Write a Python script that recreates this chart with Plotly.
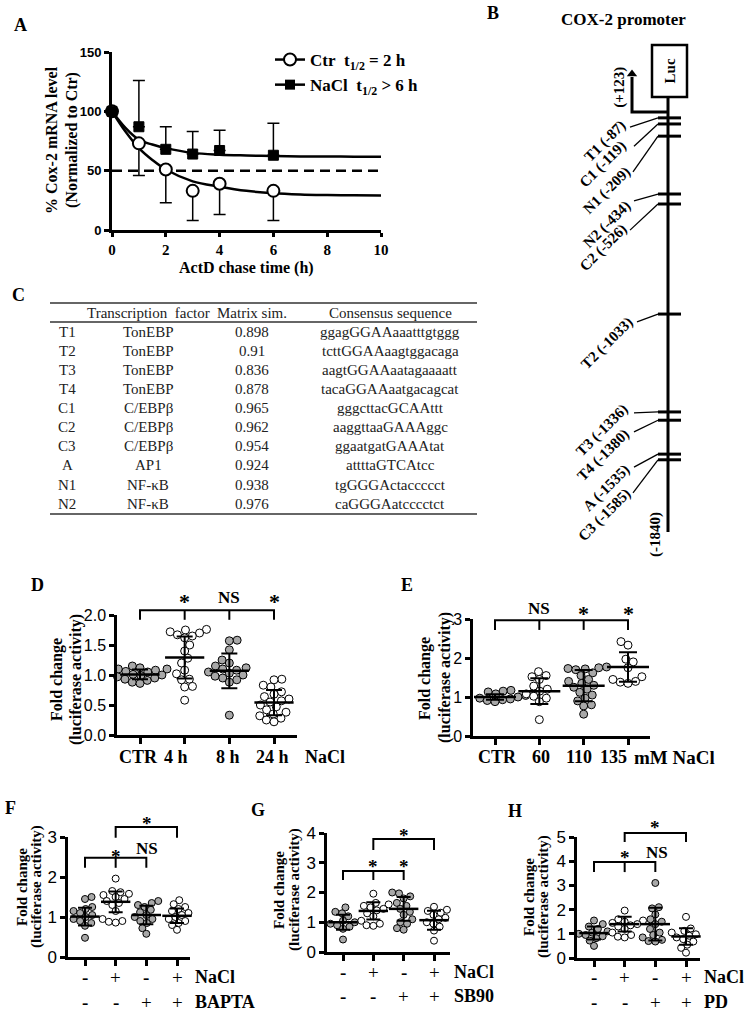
import math
import plotly.graph_objects as go

W, H = 745, 1013
SERIF = "Liberation Serif"
SANS = "Liberation Sans"
GREY_FILL = "#a8a8a8"

# ================= DATA =================
# ---- Panel A : ActD chase ----
a_time = [0, 1, 2, 3, 4, 6]
a_ctr_mean = [100, 73, 51, 33, 39, 33]
a_ctr_err = [0, 27, 28, 25, 26, 25]
a_nacl_mean = [100, 87, 68, 64, 67, 63]
a_nacl_err = [0, 39, 19, 19, 17, 27]
a_fit_time = [0, 0.5, 1, 1.5, 2, 3, 4, 5, 6, 7, 8, 9, 10]
a_fit_ctr = [100, 83, 69, 59, 51, 41, 36.5, 33, 31, 30, 29.5, 29.2, 29]
a_fit_nacl = [100, 86, 76, 72, 69, 65, 63.5, 62.8, 62.3, 62, 61.9, 61.8, 61.8]
a_half_level = 50
a_xticks = [0, 2, 4, 6, 8, 10]
a_yticks = [0, 50, 100, 150]
a_names = ["Ctr\u00a0\u00a0t<sub>1/2</sub> = 2 h", "NaCl\u00a0\u00a0t<sub>1/2</sub> &gt; 6 h"]

# ---- Panel B : COX-2 promoter sites ----
b_sites = ["T1", "C1", "N1", "N2", "C2", "T2", "T3", "T4", "A", "C3"]
b_bp = [-87, -119, -209, -434, -526, -1033, -1336, -1380, -1535, -1585]
b_tss = "+123"
b_end = "-1840"

# ---- Panel C : table ----
c_header = ["", "Transcription\u00a0\u00a0factor", "Matrix sim.", "Consensus sequence"]
c_site = ["T1", "T2", "T3", "T4", "C1", "C2", "C3", "A", "N1", "N2"]
c_factor = ["TonEBP", "TonEBP", "TonEBP", "TonEBP", "C/EBPβ", "C/EBPβ", "C/EBPβ",
            "AP1", "NF-κB", "NF-κB"]
c_sim = ["0.898", "0.91", "0.836", "0.878", "0.965", "0.962", "0.954", "0.924", "0.938", "0.976"]
c_seq = ["ggagGGAAaaatttgtggg", "tcttGGAAaagtggacaga", "aagtGGAAaatagaaaatt",
         "tacaGGAAaatgacagcat", "gggcttacGCAAttt", "aaggttaaGAAAggc",
         "ggaatgatGAAAtat", "attttaGTCAtcc", "tgGGGActaccccct", "caGGGAatcccctct"]

# ---- Panel D : time course ----
d_labels = ["CTR", "4 h", "8 h", "24 h"]
d_vals = [
    [1.15, 1.13, 1.12, 1.10, 1.10, 1.08, 1.06, 1.05, 1.03, 1.01, 1.00, 0.99, 0.97, 0.95, 0.93, 0.91, 0.88, 0.86],
    [1.76, 1.75, 1.72, 1.70, 1.67, 1.65, 1.62, 1.50, 1.40, 1.28, 1.20, 1.08, 1.02, 0.93, 0.92, 0.81, 0.80, 0.58],
    [1.58, 1.57, 1.42, 1.25, 1.20, 1.15, 1.12, 1.10, 1.08, 1.05, 1.03, 1.00, 0.98, 0.95, 0.92, 0.88, 0.33],
    [0.93, 0.92, 0.83, 0.80, 0.72, 0.68, 0.64, 0.60, 0.57, 0.55, 0.50, 0.47, 0.42, 0.38, 0.35, 0.32, 0.28, 0.25, 0.22],
]
d_mean = [1.01, 1.29, 1.07, 0.54]
d_sd = [0.08, 0.35, 0.29, 0.21]
d_fill = ["grey", "open", "grey", "open"]
d_sig = ["*", "NS", "*"]

# ---- Panel E : dose ----
e_labels = ["CTR", "60", "110", "135"]
e_vals = [
    [1.17, 1.15, 1.13, 1.10, 1.08, 1.06, 1.04, 1.02, 1.00, 0.99, 0.97, 0.95, 0.93, 0.91, 0.88],
    [1.65, 1.55, 1.52, 1.45, 1.28, 1.20, 1.15, 1.08, 1.02, 0.97, 0.88, 0.42],
    [1.77, 1.75, 1.73, 1.72, 1.70, 1.62, 1.55, 1.45, 1.40, 1.35, 1.30, 1.25, 1.20, 1.12, 1.05, 0.97, 0.90, 0.80, 0.77, 0.56],
    [2.42, 2.33, 1.97, 1.90, 1.75, 1.52, 1.45, 1.40, 1.38, 1.35],
]
e_mean = [1.00, 1.15, 1.29, 1.77]
e_sd = [0.07, 0.33, 0.40, 0.38]
e_fill = ["grey", "open", "grey", "open"]
e_sig = ["NS", "*", "*"]

# ---- Panels F, G, H : inhibitors ----
fgh_nacl = ["-", "+", "-", "+"]
fgh_inhib = ["-", "-", "+", "+"]
fgh_fill = ["grey", "open", "grey", "open"]

f_inhibitor = "BAPTA"
f_vals = [
    [1.50, 1.45, 1.25, 1.20, 1.15, 1.10, 1.05, 1.00, 0.95, 0.90, 0.85, 0.78, 0.48],
    [1.96, 1.65, 1.62, 1.58, 1.55, 1.50, 1.45, 1.40, 1.35, 1.30, 1.15, 0.95, 0.90, 0.88, 0.86],
    [1.40, 1.35, 1.30, 1.25, 1.18, 1.12, 1.05, 1.00, 0.95, 0.90, 0.85, 0.72, 0.58],
    [1.42, 1.32, 1.25, 1.20, 1.15, 1.10, 1.05, 1.00, 0.95, 0.90, 0.85, 0.80, 0.68],
]
f_mean = [1.01, 1.38, 1.05, 1.03]
f_sd = [0.22, 0.26, 0.23, 0.18]
f_sig_low = ["*", "NS"]
f_sig_high = ["*"]

g_inhibitor = "SB90"
g_vals = [
    [1.50, 1.35, 1.30, 1.20, 1.10, 1.05, 1.00, 0.95, 0.90, 0.85, 0.78, 0.42],
    [1.96, 1.65, 1.60, 1.55, 1.50, 1.45, 1.40, 1.30, 1.20, 1.05, 0.95, 0.90, 0.88],
    [2.00, 1.97, 1.87, 1.80, 1.65, 1.55, 1.45, 1.35, 1.25, 1.10, 1.00, 0.95, 0.80, 0.75],
    [1.52, 1.42, 1.38, 1.32, 1.25, 1.15, 1.10, 1.00, 0.95, 0.85, 0.72, 0.38],
]
g_mean = [1.00, 1.38, 1.45, 1.07]
g_sd = [0.25, 0.29, 0.40, 0.32]
g_sig_low = ["*", "*"]
g_sig_high = ["*"]

h_inhibitor = "PD"
h_vals = [
    [1.55, 1.40, 1.30, 1.20, 1.10, 1.05, 1.00, 0.95, 0.90, 0.82, 0.72, 0.50],
    [1.96, 1.60, 1.55, 1.50, 1.45, 1.40, 1.35, 1.30, 1.20, 1.05, 0.95, 0.88, 0.85],
    [3.10, 2.10, 2.05, 1.80, 1.60, 1.50, 1.40, 1.20, 1.05, 0.95, 0.85, 0.75, 0.70, 0.68],
    [1.70, 1.22, 1.18, 1.12, 1.05, 0.98, 0.92, 0.85, 0.78, 0.68, 0.55, 0.42, 0.22],
]
h_mean = [1.03, 1.40, 1.40, 0.89]
h_sd = [0.27, 0.30, 0.68, 0.34]
h_sig_low = ["*", "NS"]
h_sig_high = ["*"]

# ================= HELPERS =================
def fx(px):
    return px / W


def fy(py):
    return 1 - py / H


def axn(n, letter):
    return f"{letter}axis" if n == 1 else f"{letter}axis{n}"


def rf(n, letter):
    return letter if n == 1 else f"{letter}{n}"


def swarm(vals, sx, sy, d):
    """Deterministic beeswarm: x offsets (data units) so markers don't overlap."""
    order = sorted(range(len(vals)), key=lambda i: vals[i])
    placed = []
    offs = [0.0] * len(vals)
    for k, i in enumerate(order):
        y = vals[i] * sy
        cands = [0.0]
        for (px_, py_) in placed:
            dy = abs(y - py_)
            if dy < d:
                dxn = math.sqrt(d * d - dy * dy)
                cands += [px_ + dxn, px_ - dxn]
        sign = 1 if k % 2 == 0 else -1
        best = 0.0
        for c in sorted(cands, key=lambda c: (round(abs(c), 6), -sign * c)):
            if all((c - a) ** 2 + (y - b) ** 2 >= d * d - 1e-6 for a, b in placed):
                best = c
                break
        placed.append((best, y))
        offs[i] = best / sx
    return offs


def font(size, bold=False, family=SERIF, color="black"):
    f = dict(family=family, size=size, color=color)
    if bold:
        f["weight"] = "bold"
    return f


fig = go.Figure()
L = {}
ann = []
shapes = []


def A_(**kw):
    d = dict(showarrow=False, xanchor="center", yanchor="middle")
    d.update(kw)
    ann.append(d)


AXIS_BASE = dict(showgrid=False, zeroline=False, fixedrange=True, showline=True,
                 linecolor="black", ticks="outside", tickcolor="black", automargin=False)

# ================= PANEL A =================
L["xaxis"] = dict(AXIS_BASE, domain=[fx(112), fx(381)], range=[0, 10], anchor="y",
                  linewidth=3, ticklen=4, tickwidth=2.5, tickvals=a_xticks,
                  tickfont=font(15, True))
L["yaxis"] = dict(AXIS_BASE, domain=[fy(230), fy(52)], range=[0, 150], anchor="x",
                  linewidth=3, ticklen=5, tickwidth=2.5, tickvals=a_yticks,
                  tickfont=font(13, True, SANS))

fig.add_trace(go.Scatter(x=[a_fit_time[0], a_fit_time[-1]], y=[a_half_level, a_half_level],
                         mode="lines", line=dict(color="black", width=2.5, dash="10px,6px"),
                         showlegend=False, xaxis="x", yaxis="y", cliponaxis=False))
fig.add_trace(go.Scatter(x=a_fit_time, y=a_fit_ctr, mode="lines", line=dict(color="black", width=2.5, shape="spline"),
                         showlegend=False, xaxis="x", yaxis="y"))
fig.add_trace(go.Scatter(x=a_fit_time, y=a_fit_nacl, mode="lines", line=dict(color="black", width=2.5, shape="spline"),
                         showlegend=False, xaxis="x", yaxis="y"))
fig.add_trace(go.Scatter(x=a_time, y=a_ctr_mean, mode="markers",
                         marker=dict(symbol="circle", size=12, color="white", line=dict(color="black", width=2)),
                         error_y=dict(type="data", symmetric=False, array=[0] * len(a_ctr_err), arrayminus=a_ctr_err,
                                      color="black", thickness=1.5, width=6),
                         showlegend=False, xaxis="x", yaxis="y", cliponaxis=False))
fig.add_trace(go.Scatter(x=a_time, y=a_nacl_mean, mode="markers",
                         marker=dict(symbol="square", size=10, color="black", line=dict(color="black", width=1)),
                         error_y=dict(type="data", symmetric=False, array=a_nacl_err, arrayminus=[0] * len(a_nacl_err),
                                      color="black", thickness=1.5, width=6),
                         showlegend=False, xaxis="x", yaxis="y", cliponaxis=False))
# legend keys
fig.add_trace(go.Scatter(x=[None], y=[None], mode="lines+markers", name=a_names[0],
                         line=dict(color="black", width=2.5),
                         marker=dict(symbol="circle", size=12, color="white", line=dict(color="black", width=2)),
                         xaxis="x", yaxis="y"))
fig.add_trace(go.Scatter(x=[None], y=[None], mode="lines+markers", name=a_names[1],
                         line=dict(color="black", width=2.5),
                         marker=dict(symbol="square", size=10, color="black"),
                         xaxis="x", yaxis="y"))

A_(text="A", x=fx(20), y=fy(25), xref="paper", yref="paper", font=font(18, True))
A_(text="% Cox-2 mRNA level", x=fx(52), y=fy(140), xref="paper", yref="paper",
   textangle=-90, font=font(16, True))
A_(text="(Normalized to Ctr)", x=fx(72), y=fy(140), xref="paper", yref="paper",
   textangle=-90, font=font(16, True))
A_(text="ActD chase time (h)", x=fx(247), y=fy(268), xref="paper", yref="paper", font=font(16, True))

# ================= PANEL B (schematic) =================
# diagram coordinates: x = px offset from promoter line, y = schematic position along the line
B_PX_PER_UNIT = 4.35
L["xaxis2"] = dict(domain=[fx(540), fx(745)], range=[540 - 668, 745 - 668], anchor="y2", visible=False,
                   fixedrange=True, automargin=False)
L["yaxis2"] = dict(domain=[fy(560), fy(0)], range=[(560 - 97) / B_PX_PER_UNIT, (0 - 97) / B_PX_PER_UNIT],
                   anchor="x2", visible=False, fixedrange=True, automargin=False)
B_ROW = [4.8, 6.2, 9.0, 22.3, 24.6, 49.9, 72.4, 74.3, 82.1, 83.4]
B_LEAD = [(-38, 6.9), (-34, 11.3), (-35, 17.2), (-34, 23.9), (-38, 30.6), (-31, 51.7),
          (-34, 72.6), (-34, 77.0), (-34, 85.1), (-35, 91.0)]
B_LAB = [(-63, 10.3), (-65, 15.6), (-61, 21.4), (-61, 29.2), (-64, 34.7), (-61, 56.6),
         (-66, 76.6), (-65, 82.3), (-62, 89.9), (-64, 96.1)]

fig.add_trace(go.Scatter(x=[0, 0], y=[0, 100], mode="lines", line=dict(color="black", width=3),
                         xaxis="x2", yaxis="y2", showlegend=False, hoverinfo="skip"))
tx, ty = [], []
for r in B_ROW:
    tx += [-10, 13, None]
    ty += [r, r, None]
fig.add_trace(go.Scatter(x=tx, y=ty, mode="lines", line=dict(color="black", width=3),
                         xaxis="x2", yaxis="y2", showlegend=False, hoverinfo="skip"))
lx, ly = [], []
for (sx, sy), r in zip(B_LEAD, B_ROW):
    lx += [sx, -10, None]
    ly += [sy, r, None]
fig.add_trace(go.Scatter(x=lx, y=ly, mode="lines", line=dict(color="black", width=1.3),
                         xaxis="x2", yaxis="y2", showlegend=False, hoverinfo="skip"))
# TSS arrow
fig.add_trace(go.Scatter(x=[0, -36, -36], y=[3.45, 3.45, -4.6], mode="lines", line=dict(color="black", width=3),
                         xaxis="x2", yaxis="y2", showlegend=False, hoverinfo="skip"))
fig.add_trace(go.Scatter(x=[-36], y=[-5.3], mode="markers", marker=dict(symbol="triangle-up", size=9, color="black"),
                         xaxis="x2", yaxis="y2", showlegend=False, hoverinfo="skip", cliponaxis=False))
shapes.append(dict(type="rect", xref="x2", yref="y2", x0=-16, x1=19, y0=-11.95, y1=0,
                   line=dict(color="black", width=2.5), fillcolor="white"))
A_(text="Luc", x=1.5, y=-6, xref="x2", yref="y2", textangle=-90, font=font(15, True))
A_(text=f"({b_tss})", x=-48, y=-2.1, xref="x2", yref="y2", textangle=-90, font=font(15, True))
for s, bp, (cx, cy) in zip(b_sites, b_bp, B_LAB):
    A_(text=f"{s} ({bp})", x=cx, y=cy, xref="x2", yref="y2", textangle=-45, font=font(15, True))
A_(text=f"({b_end})", x=-13, y=100.7, xref="x2", yref="y2", textangle=-90, font=font(15, True))
A_(text="B", x=fx(493), y=fy(13), xref="paper", yref="paper", font=font(18, True))
A_(text="COX-2 promoter", x=fx(623), y=fy(20), xref="paper", yref="paper", font=font(17, True))

# ================= PANEL C (table) =================
C_COLS = [67, 148, 252, 390]
C_HEAD_Y = 313
C_ROW0, C_DY = 331.7, 19.1
A_(text="C", x=fx(18), y=fy(295), xref="paper", yref="paper", font=font(18, True))
for cx, h in zip(C_COLS, c_header):
    if h:
        A_(text=h, x=fx(cx), y=fy(C_HEAD_Y), xref="paper", yref="paper", font=font(15, color="#222"))
for i, row in enumerate(zip(c_site, c_factor, c_sim, c_seq)):
    for cx, t in zip(C_COLS, row):
        A_(text=t, x=fx(cx), y=fy(C_ROW0 + i * C_DY), xref="paper", yref="paper", font=font(15, color="#222"))
for yy in [303, 322, 514]:
    shapes.append(dict(type="line", xref="paper", yref="paper", x0=fx(50), x1=fx(477), y0=fy(yy), y1=fy(yy),
                       line=dict(color="#333", width=1.3)))


# ================= DOT PANELS =================
def dot_panel(n, spec):
    xl, xr = spec["xdom"]
    cats = spec["cats_px"]
    ncat = len(cats)
    step = (cats[-1] - cats[0]) / (ncat - 1)
    x0 = -(cats[0] - xl) / step
    x1 = (ncat - 1) + (xr - cats[-1]) / step
    yb, yt = spec["ydom"]
    ymax = spec["ymax"]
    sy = (yb - yt) / ymax
    ymax_ann = (yb - spec["ann_top"]) / sy
    xa, ya, xb, yb_ = rf(n, "x"), rf(n, "y"), rf(n + 1, "x"), rf(n + 1, "y")
    L[axn(n, "x")] = dict(AXIS_BASE, domain=[fx(xl), fx(xr)], range=[x0, x1], anchor=ya, linewidth=2.5,
                          ticklen=6, tickwidth=2.5, tickvals=list(range(ncat)), showticklabels=False)
    L[axn(n, "y")] = dict(AXIS_BASE, domain=[fy(yb), fy(yt)], range=[0, ymax], anchor=xa, linewidth=2.5,
                          ticklen=5, tickwidth=2.5, tickvals=spec["yticks"], tickformat=spec["fmt"],
                          tickfont=font(spec["tfs"], False, SANS))
    L[axn(n + 1, "x")] = dict(domain=[fx(xl), fx(xr)], range=[x0, x1], anchor=yb_, visible=False,
                              fixedrange=True, automargin=False)
    L[axn(n + 1, "y")] = dict(domain=[fy(yb), fy(spec["ann_top"])], range=[0, ymax_ann], anchor=xb,
                              visible=False, fixedrange=True, automargin=False)
    ms = spec["ms"]
    for i, (vals, fill) in enumerate(zip(spec["vals"], spec["fill"])):
        offs = swarm(vals, step, sy, ms * 0.98)
        fig.add_trace(go.Scatter(
            x=[i + o for o in offs], y=vals, mode="markers",
            marker=dict(size=ms, color=GREY_FILL if fill == "grey" else "white",
                        line=dict(color="black", width=1)),
            xaxis=xa, yaxis=ya, showlegend=False, cliponaxis=False, hoverinfo="skip"))
    fig.add_trace(go.Scatter(
        x=list(range(ncat)), y=spec["mean"], mode="markers",
        marker=dict(symbol="line-ew", size=spec["mw"], color="black", line=dict(color="black", width=2.5)),
        error_y=dict(type="data", array=spec["sd"], color="black", thickness=2, width=spec["cw"]),
        xaxis=xa, yaxis=ya, showlegend=False, cliponaxis=False, hoverinfo="skip"))
    # brackets
    bx, by = [], []
    for (a, b, top, leg, mids) in spec["brackets"]:
        bx += [a, a, b, b, None]
        by += [leg, top, top, leg, None]
        for m in mids:
            bx += [m, m, None]
            by += [top, leg, None]
    fig.add_trace(go.Scatter(x=bx, y=by, mode="lines", line=dict(color="black", width=2),
                             xaxis=xb, yaxis=yb_, showlegend=False, hoverinfo="skip"))
    for (t, xx, yy) in spec["marks"]:
        A_(text=t, x=xx, y=yy, xref=xb, yref=yb_, font=font(spec["sfs"] if t == "*" else spec["nfs"], True))
    # y title
    for t, px_ in zip(["Fold change", "(luciferase activity)"], spec["title_x"]):
        A_(text=t, x=fx(px_), y=fy(spec["title_y"]), xref="paper", yref="paper", textangle=-90,
           font=font(spec["title_fs"], True))
    A_(text=spec["letter"], x=fx(spec["letter_xy"][0]), y=fy(spec["letter_xy"][1]),
       xref="paper", yref="paper", font=font(18, True))
    return xa


# ---- D ----
xa = dot_panel(3, dict(
    xdom=(117, 297), cats_px=[140, 184, 229, 274], ydom=(735, 615), ymax=2.0, ann_top=580,
    yticks=[0, 0.5, 1.0, 1.5, 2.0], fmt=".1f", tfs=16, vals=d_vals, fill=d_fill, mean=d_mean, sd=d_sd,
    ms=8, mw=28, cw=8,
    brackets=[(0, 3, 2.08, 1.92, [1, 2])],
    marks=[(d_sig[0], 1, 2.22), (d_sig[1], 2, 2.30), (d_sig[2], 3, 2.22)], sfs=22, nfs=17,
    title_x=[57, 76], title_y=680, title_fs=16, letter="D", letter_xy=(37, 585)))
D_LABEL_SHIFT = [-2, -9, -1, -2]
for i, t in enumerate(d_labels):
    A_(text=t, x=i, y=fy(757), xref=xa, yref="paper", xshift=D_LABEL_SHIFT[i], font=font(18, True))
A_(text="NaCl", x=fx(303), y=fy(757), xref="paper", yref="paper", xanchor="left", font=font(18, True))

# ---- E ----
xa = dot_panel(5, dict(
    xdom=(473, 650), cats_px=[495, 539, 583, 628], ydom=(736, 619), ymax=3.0, ann_top=590,
    yticks=[0, 1, 2, 3], fmt="d", tfs=16, vals=e_vals, fill=e_fill, mean=e_mean, sd=e_sd,
    ms=8, mw=30, cw=9,
    brackets=[(0, 3, 2.97, 2.72, [1, 2])],
    marks=[(e_sig[0], 1, 3.28), (e_sig[1], 2, 3.15), (e_sig[2], 3, 3.15)], sfs=22, nfs=17,
    title_x=[425, 445], title_y=678, title_fs=16, letter="E", letter_xy=(407, 585)))
E_LABEL_SHIFT = [2, 2, -5, -15]
for i, t in enumerate(e_labels):
    A_(text=t, x=i, y=fy(757), xref=xa, yref="paper", xshift=E_LABEL_SHIFT[i], font=font(18, True))
A_(text="mM NaCl", x=fx(632), y=fy(757), xref="paper", yref="paper", xanchor="left", font=font(19, True))


def inhib_labels(xa, rows_y, label_x, inhibitor):
    for i, (a, b) in enumerate(zip(fgh_nacl, fgh_inhib)):
        for t, yy in zip([a, b], rows_y):
            A_(text=t, x=i, y=fy(yy), xref=xa, yref="paper", font=font(19, t == "-"))
    for t, yy in zip(["NaCl", inhibitor], rows_y):
        A_(text=t, x=fx(label_x), y=fy(yy), xref="paper", yref="paper", xanchor="left", font=font(18, True))


# ---- F ----
xa = dot_panel(7, dict(
    xdom=(68, 190), cats_px=[85, 116, 146, 177], ydom=(957, 837), ymax=3.0, ann_top=805,
    yticks=[0, 1, 2, 3], fmt="d", tfs=17, vals=f_vals, fill=fgh_fill, mean=f_mean, sd=f_sd,
    ms=7, mw=21, cw=7,
    brackets=[(0, 2, 2.48, 2.23, [1]), (1, 3, 3.25, 2.98, [])],
    marks=[(f_sig_low[0], 1, 2.52), (f_sig_low[1], 2.03, 2.72), (f_sig_high[0], 2.03, 3.35)], sfs=19, nfs=17,
    title_x=[22, 36], title_y=887, title_fs=15, letter="F", letter_xy=(10, 808)))
inhib_labels(xa, [977, 1002], 193, f_inhibitor)

# ---- G ----
xa = dot_panel(9, dict(
    xdom=(327, 450), cats_px=[343, 374, 404, 434], ydom=(952, 833), ymax=4.0, ann_top=815,
    yticks=[0, 1, 2, 3, 4], fmt="d", tfs=17, vals=g_vals, fill=fgh_fill, mean=g_mean, sd=g_sd,
    ms=7, mw=21, cw=7,
    brackets=[(0, 2, 2.72, 2.42, [1]), (1, 3, 3.80, 3.43, [])],
    marks=[(g_sig_low[0], 1, 2.86), (g_sig_low[1], 2, 2.86), (g_sig_high[0], 2, 3.90)], sfs=19, nfs=17,
    title_x=[279, 294], title_y=890, title_fs=15, letter="G", letter_xy=(258, 810)))
inhib_labels(xa, [972, 996], 452, g_inhibitor)

# ---- H ----
xa = dot_panel(11, dict(
    xdom=(577, 700), cats_px=[594, 625, 656, 686], ydom=(958, 837), ymax=5.0, ann_top=812,
    yticks=[0, 1, 2, 3, 4, 5], fmt="d", tfs=17, vals=h_vals, fill=fgh_fill, mean=h_mean, sd=h_sd,
    ms=7, mw=21, cw=7,
    brackets=[(0, 2, 3.97, 3.55, [1]), (1, 3, 5.17, 4.79, [])],
    marks=[(h_sig_low[0], 1, 4.17), (h_sig_low[1], 2.07, 4.38), (h_sig_high[0], 2, 5.41)], sfs=19, nfs=17,
    title_x=[529, 543], title_y=897, title_fs=15, letter="H", letter_xy=(515, 811)))
inhib_labels(xa, [977, 1002], 702, h_inhibitor)

fig.update_layout(
    width=W, height=H, margin=dict(l=0, r=0, t=0, b=0, pad=0, autoexpand=False),
    paper_bgcolor="white", plot_bgcolor="rgba(0,0,0,0)",
    showlegend=True,
    legend=dict(x=fx(270), y=fy(42), xanchor="left", yanchor="top", bgcolor="rgba(0,0,0,0)",
                font=font(17, True), itemwidth=30, tracegroupgap=0),
    annotations=ann, shapes=shapes, **L)

fig.write_html("out.html", config={"displayModeBar": False},
               post_script="document.body.style.margin='0px';document.body.style.overflow='hidden';")
